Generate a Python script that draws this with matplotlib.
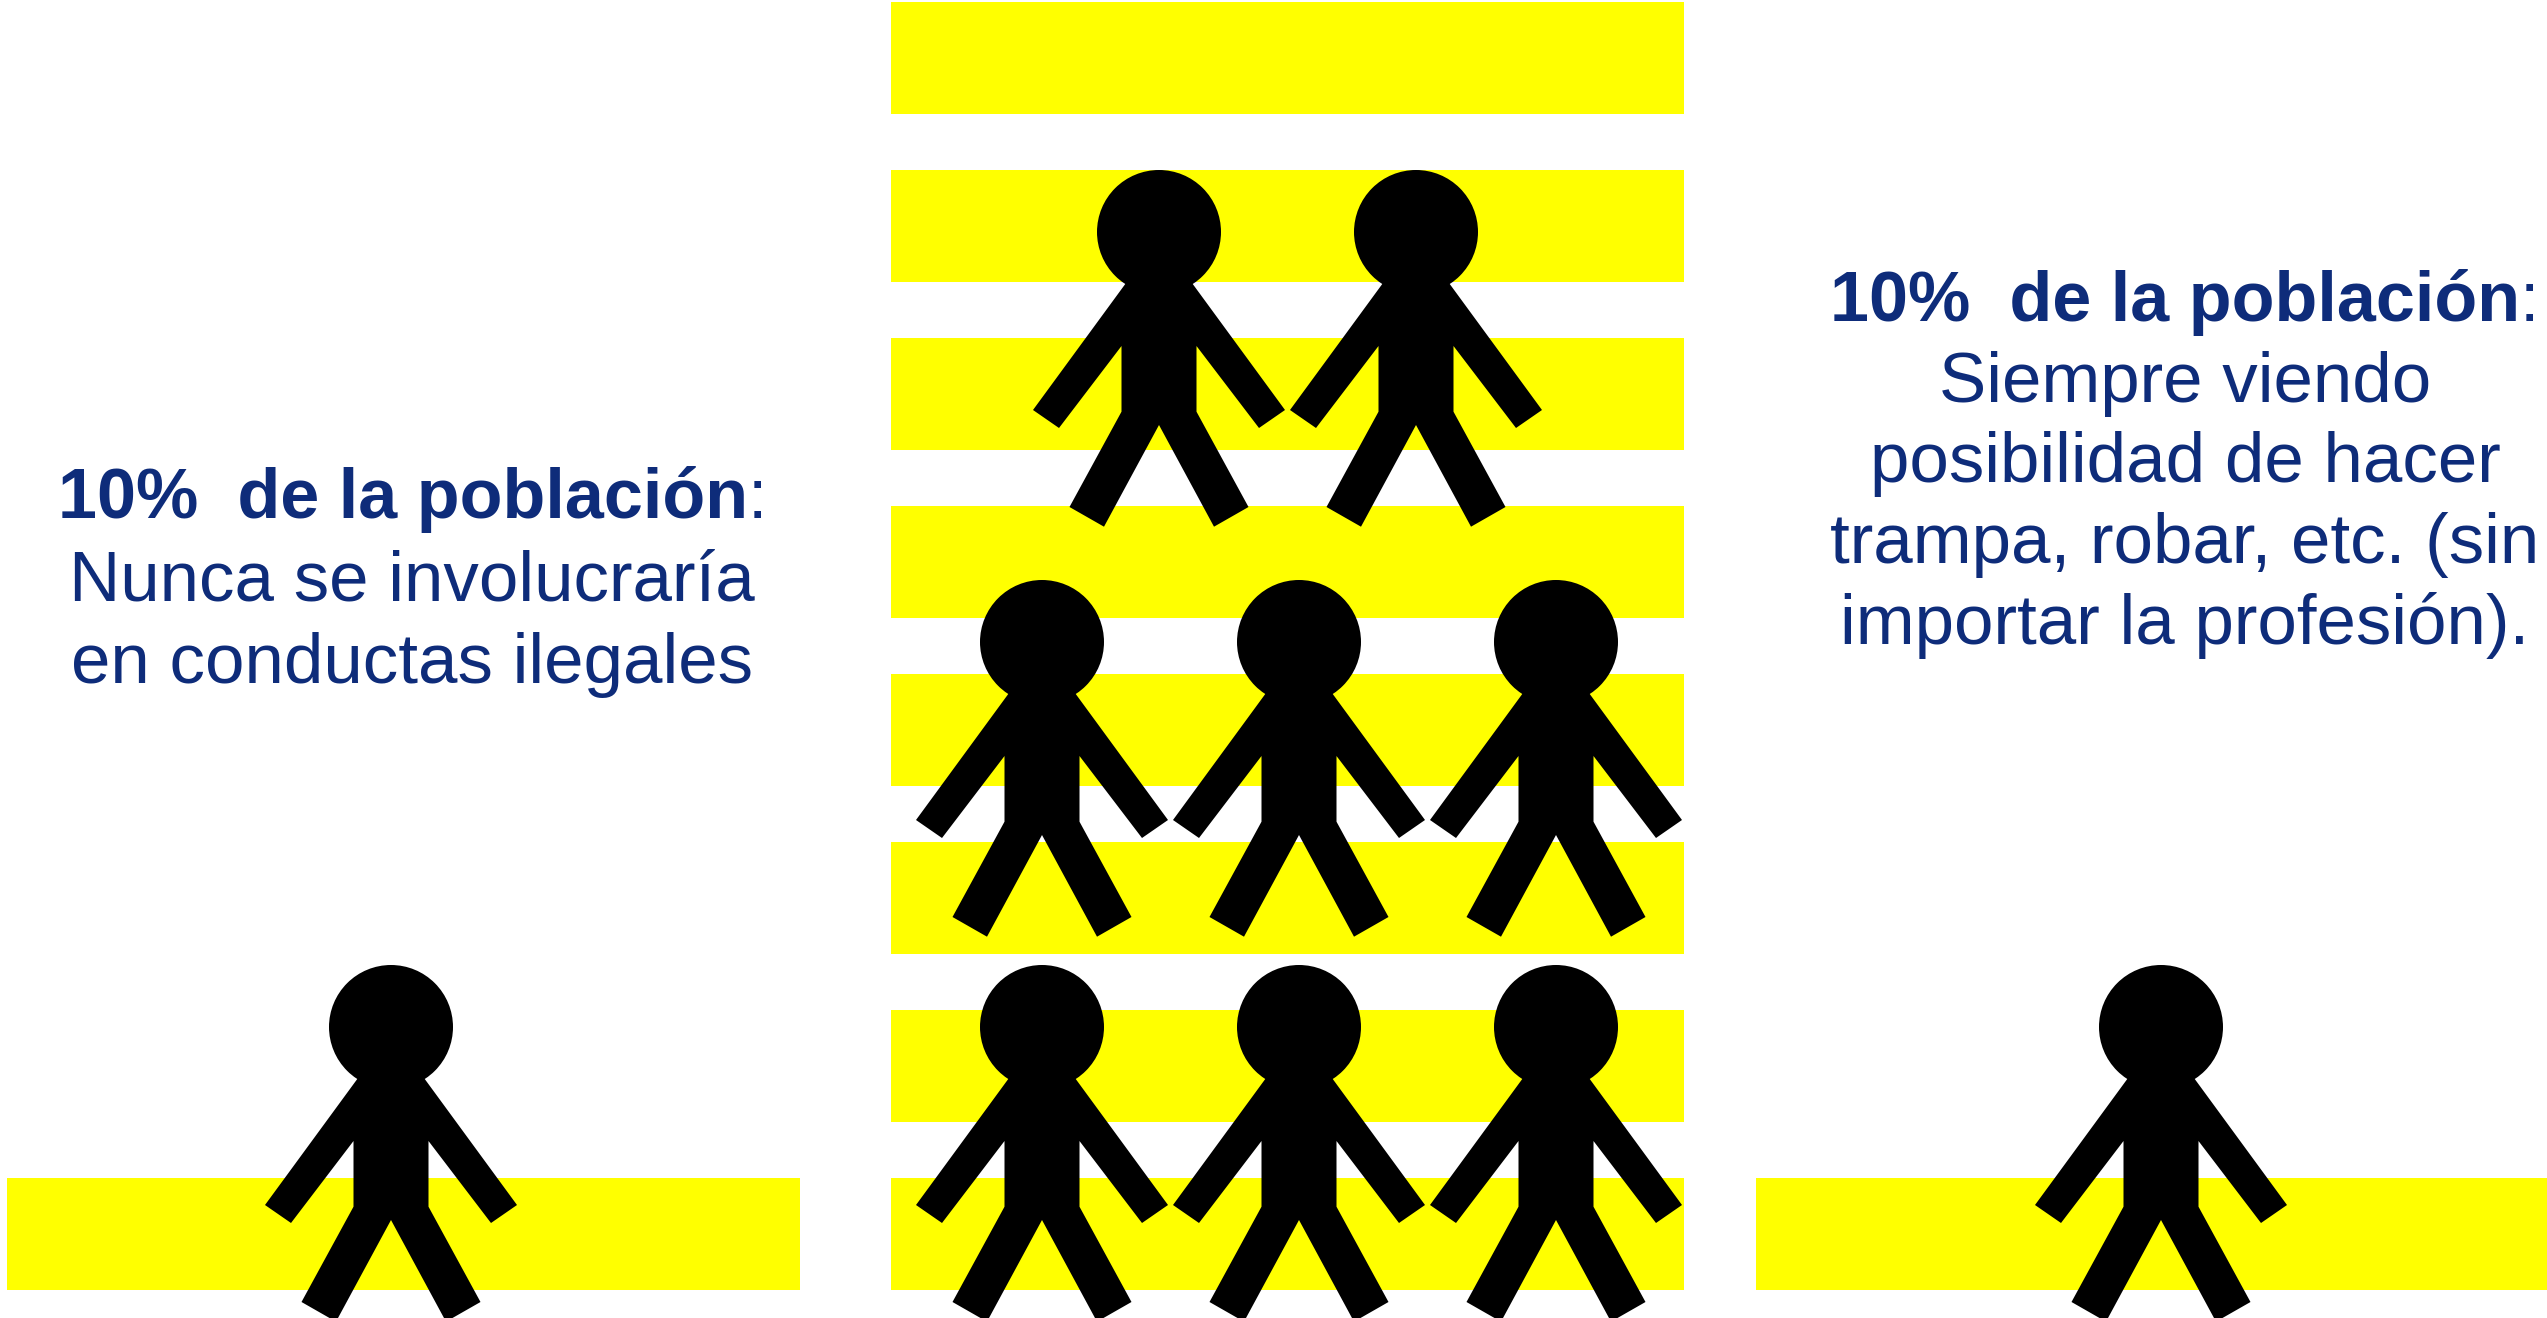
import matplotlib
matplotlib.use("Agg")
import matplotlib.pyplot as plt
from matplotlib.patches import Ellipse, Polygon

# --- data: pictogram counts and text ---
groups = ["Nunca", "Mayoría", "Siempre"]
bands_per_group = [1, 8, 1]
people_rows = [[1], [2, 3, 3], [1]]
heading = "10%  de la población"
left_lines = ["Nunca se involucraría", "en conductas ilegales"]
right_lines = ["Siempre viendo", "posibilidad de hacer",
               "trampa, robar, etc. (sin", "importar la profesión)."]

# --- layout (pixels) ---
W, H = 2547, 1318
NAVY = "#0E2C7A"
YELLOW = "#FFFF00"
group_x = [(7, 800), (891, 1684), (1756, 2547)]
band_h = 112
band_step = 168
band_bottom = 1290
row_tops = {0: [965], 1: [170, 580, 965], 2: [965]}
column_centres = {(0, 0): [391], (1, 0): [1159, 1416],
                  (1, 1): [1042, 1299, 1556], (1, 2): [1042, 1299, 1556],
                  (2, 0): [2161]}

half = [(33, 113), (126, 240), (100, 258), (37.5, 176), (37.5, 241.7),
        (89.5, 337), (55, 356.7), (0, 255)]

fig = plt.figure(figsize=(W / 100, H / 100), dpi=100, facecolor="white")
ax = fig.add_axes([0, 0, 1, 1])
ax.set_xlim(0, W)
ax.set_ylim(H, 0)
ax.axis("off")


def person(cx, top):
    right = [(cx + dx, top + dy) for dx, dy in half]
    left = [(cx - dx, top + dy) for dx, dy in half[-2::-1]]
    ax.add_patch(Polygon(right + left, closed=True, fc="black", ec="none", zorder=3))
    ax.add_patch(Ellipse((cx, top + 62), 124, 124, fc="black", ec="none", zorder=3))


for g, name in enumerate(groups):
    x0, x1 = group_x[g]
    tops = [band_bottom - band_h - i * band_step for i in range(bands_per_group[g])]
    ax.barh(tops, [x1 - x0] * len(tops), left=x0, height=band_h, align="edge",
            color=YELLOW, linewidth=0, zorder=1)
    for r, n in enumerate(people_rows[g]):
        for c in range(n):
            person(column_centres[(g, r)][c], row_tops[g][r])


def block(x_left, x_mid, base, step, lines, fs_head, fs_body):
    t = ax.text(x_left, base, heading, color=NAVY, fontsize=fs_head, fontweight="bold",
                family="Liberation Sans", ha="left", va="baseline", zorder=4)
    ax.annotate(":", xy=(1, 0), xycoords=t, xytext=(0, 0), textcoords="offset points",
                color=NAVY, fontsize=fs_head, family="Liberation Sans", ha="left", va="bottom")
    for i, line in enumerate(lines, start=1):
        ax.text(x_mid, base + i * step, line, color=NAVY, fontsize=fs_body,
                family="Liberation Sans", ha="center", va="baseline", zorder=4)


block(58, 412, 518, 82.5, left_lines, 50.5, 51)
block(1830, 2185, 321, 80.7, right_lines, 50.5, 51)

fig.savefig("out.png", dpi=100, facecolor="white")
